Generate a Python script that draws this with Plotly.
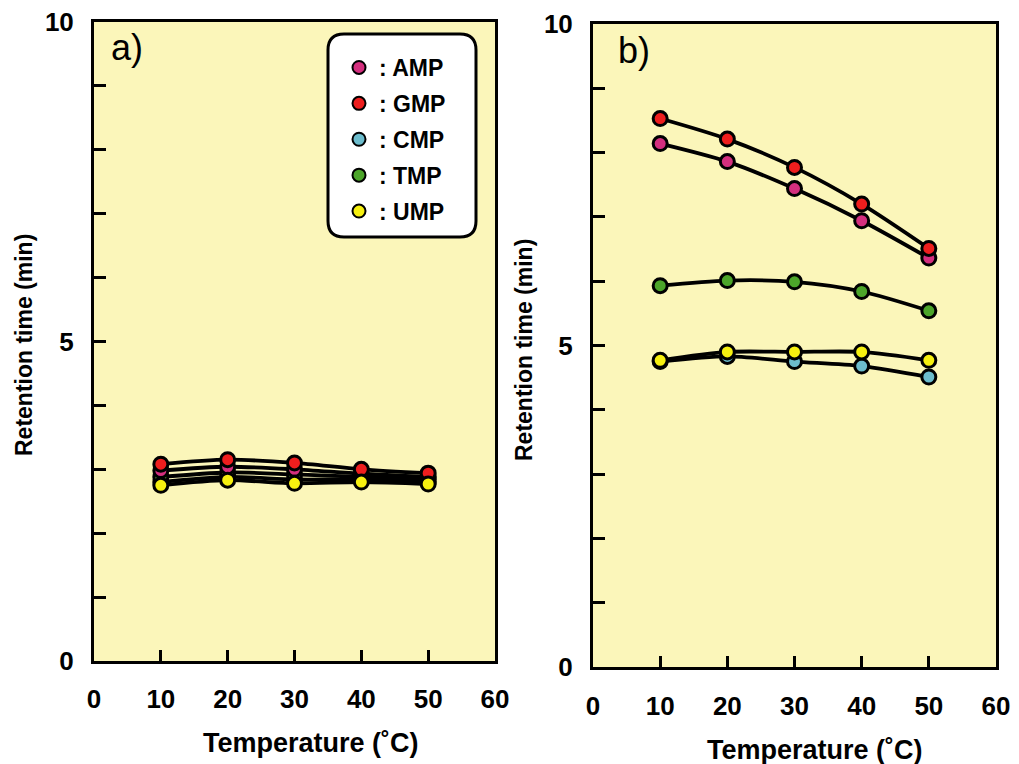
import plotly.graph_objects as go

temps = [10, 20, 30, 40, 50]
series_names = ["AMP", "GMP", "CMP", "TMP", "UMP"]
series_colors = ["#D42F7E", "#EE1E1E", "#6CBCCC", "#4CA52A", "#F6F010"]

# Panel a) retention time (min)
a_AMP = [2.98, 3.04, 3.00, 2.93, 2.88]
a_GMP = [3.08, 3.15, 3.10, 3.00, 2.94]
a_CMP = [2.80, 2.88, 2.84, 2.84, 2.80]
a_TMP = [2.88, 2.95, 2.92, 2.88, 2.85]
a_UMP = [2.75, 2.83, 2.78, 2.80, 2.77]

# Panel b) retention time (min)
b_AMP = [8.14, 7.86, 7.44, 6.94, 6.36]
b_GMP = [8.53, 8.21, 7.77, 7.20, 6.51]
b_CMP = [4.75, 4.83, 4.75, 4.68, 4.51]
b_TMP = [5.93, 6.01, 5.99, 5.84, 5.54]
b_UMP = [4.77, 4.90, 4.90, 4.90, 4.77]

x_tick_vals = [0, 10, 20, 30, 40, 50, 60]
y_tick_vals = [0, 5, 10]

panel_a = [a_AMP, a_GMP, a_CMP, a_TMP, a_UMP]
panel_b = [b_AMP, b_GMP, b_CMP, b_TMP, b_UMP]

W, H = 1019, 764
FONT = "Liberation Sans, Arial, Helvetica, sans-serif"
BG = "#FBF6BA"

def px(x):
    return x / W

def py(y):
    return 1 - y / H

fig = go.Figure()

# Lines first (below markers)
for axes, data in (("x", panel_a), ("x2", panel_b)):
    for vals in data:
        fig.add_trace(go.Scatter(
            x=temps, y=vals, mode="lines",
            line=dict(color="black", width=3.8, shape="spline", smoothing=0.8),
            xaxis=axes, yaxis=axes.replace("x", "y"), showlegend=False, hoverinfo="skip"))

# Markers, drawn so the upper series sit on top as in the reference
for axes, data, order in (("x", panel_a, [2, 3, 0, 1, 4]), ("x2", panel_b, [2, 4, 3, 0, 1])):
    for i in order:
        fig.add_trace(go.Scatter(
            x=temps, y=data[i], mode="markers",
            marker=dict(symbol="circle", size=14, color=series_colors[i],
                        line=dict(color="black", width=3)),
            xaxis=axes, yaxis=axes.replace("x", "y"), showlegend=False))

# Legend traces (panel a, in legend order)
for i, name in enumerate(series_names):
    fig.add_trace(go.Scatter(
        x=[None], y=[None], mode="markers", name=": " + name,
        marker=dict(symbol="circle", size=13, color=series_colors[i],
                    line=dict(color="black", width=2)),
        xaxis="x", yaxis="y", legendgroup=name, showlegend=True))

axis_common = dict(
    showline=True, linecolor="black", linewidth=3, mirror=True,
    ticks="inside", tickwidth=2.5, tickcolor="black",
    showgrid=False, zeroline=False, automargin=False, ticklabeloverflow="allow",
    tickfont=dict(family=FONT, size=26, color="black", weight="bold"),
)
minor_y = dict(dtick=1, ticks="inside", ticklen=12, tickwidth=2.5, tickcolor="black")

fig.update_layout(
    width=W, height=H, autosize=False,
    margin=dict(l=0, r=0, t=0, b=0, pad=0),
    paper_bgcolor="white", plot_bgcolor=BG,
    font=dict(family=FONT, color="black"),
    xaxis=dict(domain=[px(94), px(495)], range=[0, 60], tickvals=x_tick_vals, ticklen=11,
               ticklabelstandoff=13, anchor="y", **axis_common),
    yaxis=dict(domain=[py(661), py(22)], range=[0, 10], tickvals=y_tick_vals, ticklen=12,
               minor=minor_y, ticklabelstandoff=12, anchor="x", **axis_common),
    xaxis2=dict(domain=[px(593), px(996)], range=[0, 60], tickvals=x_tick_vals, ticklen=11,
                ticklabelstandoff=14, anchor="y2", **axis_common),
    yaxis2=dict(domain=[py(667), py(24)], range=[0, 10], tickvals=y_tick_vals, ticklen=12,
                minor=minor_y, ticklabelstandoff=12, anchor="x2", **axis_common),
    legend=dict(x=px(339), y=py(46), xanchor="left", yanchor="top",
                bgcolor="rgba(0,0,0,0)", borderwidth=0,
                font=dict(family=FONT, size=23, color="black", weight="bold"),
                tracegroupgap=3, itemsizing="trace"),
)

# Rounded legend box
x0, x1, y0, y1, r = 328, 476, 34, 237, 16
path = (f"M {px(x0 + r)} {py(y0)} L {px(x1 - r)} {py(y0)} Q {px(x1)} {py(y0)} {px(x1)} {py(y0 + r)} "
        f"L {px(x1)} {py(y1 - r)} Q {px(x1)} {py(y1)} {px(x1 - r)} {py(y1)} "
        f"L {px(x0 + r)} {py(y1)} Q {px(x0)} {py(y1)} {px(x0)} {py(y1 - r)} "
        f"L {px(x0)} {py(y0 + r)} Q {px(x0)} {py(y0)} {px(x0 + r)} {py(y0)} Z")
fig.add_shape(type="path", path=path, xref="paper", yref="paper",
              fillcolor="white", line=dict(color="black", width=3), layer="above")

title_font = dict(family=FONT, size=23, color="black", weight="bold")
xt_font = dict(family=FONT, size=27, color="black", weight="bold")
ann = [
    dict(text="a)", x=px(109), y=py(47), xanchor="left", yanchor="middle",
         font=dict(family=FONT, size=36, color="black")),
    dict(text="b)", x=px(616), y=py(50), xanchor="left", yanchor="middle",
         font=dict(family=FONT, size=36, color="black")),
    dict(text="Retention time (min)", x=px(24), y=py(345), textangle=-90,
         xanchor="center", yanchor="middle", font=title_font),
    dict(text="Retention time (min)", x=px(524), y=py(350), textangle=-90,
         xanchor="center", yanchor="middle", font=title_font),
    dict(text="Temperature (˚C)", x=px(311), y=py(743), xanchor="center", yanchor="middle",
         font=xt_font),
    dict(text="Temperature (˚C)", x=px(815), y=py(750), xanchor="center", yanchor="middle",
         font=xt_font),
]
for a in ann:
    fig.add_annotation(xref="paper", yref="paper", showarrow=False, **a)

# Remove the default 8px page margin so the 1019x764 figure fills the window exactly
fig.write_html("out.html", config={"displayModeBar": False},
               post_script="document.body.style.margin='0';")
